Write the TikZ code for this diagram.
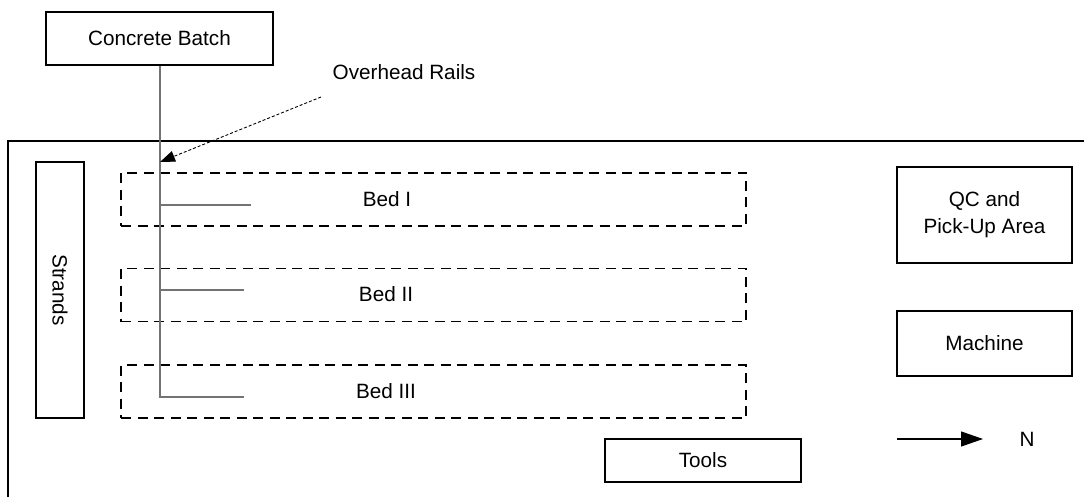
\documentclass[tikz,border=0pt]{standalone}
\usepackage{fontspec}
\setmainfont{Liberation Sans}
\usetikzlibrary{arrows.meta}
\begin{document}
\begin{tikzpicture}[x=1pt,y=-1pt,
  every node/.style={font=\fontsize{20.7}{24}\selectfont, inner sep=0pt},
  box/.style={draw, line width=1.2pt, minimum width=#1},
  bed/.style={draw, line width=1.3pt, dash pattern=on 10pt off 6.5pt, minimum width=625pt, minimum height=53pt},
  rail/.style={draw=black!55, line width=1.2pt},
  wall/.style={draw, line width=1.2pt}]
\useasboundingbox (0,0) rectangle (1084,497);
\fill[white] (0,0) rectangle (1084,497);
% outer area
\coordinate (w1) at (1084,141);
\coordinate (w2) at (8,141);
\coordinate (w3) at (8,497);
\draw[wall] (w1) -- (w2) -- (w3);
% nodes
\node[box=227pt, minimum height=53pt] (batch) at (159.5,38.5) {Concrete Batch};
\node[box=48pt, minimum height=256pt] (strands) at (60,290) {};
\node[rotate=-90] (strandst) at (60,290) {Strands};
\node[bed] (bed1) at (433.5,199.5) {};
\node[bed] (bed2) at (433.5,295) {};
\node[bed] (bed3) at (433.5,391.5) {};
\node (bed1t) at (387,199) {Bed I};
\node (bed2t) at (386,294) {Bed II};
\node (bed3t) at (386,391) {Bed III};
\node[box=175pt, minimum height=96pt, align=center] (qc) at (984.5,215) {QC and\\[3pt]Pick-Up Area};
\node[box=175pt, minimum height=65pt] (mach) at (984.5,343.5) {Machine};
\node[box=196pt, minimum height=43pt] (tools) at (703,460.5) {Tools};
\node (rails) at (404,72) {Overhead Rails};
\node (n) at (1027,439) {N};
% rails
\coordinate (r0) at (160,397);
\coordinate (j1) at (160,205);
\coordinate (j2) at (160,290);
\coordinate (e1) at (251,205);
\coordinate (e2) at (244,290);
\coordinate (e3) at (244,397);
\draw[rail] (batch.south -| r0) -- (r0) -- (e3);
\draw[rail] (j1) -- (e1);
\draw[rail] (j2) -- (e2);
% overhead rails pointer
\coordinate (p0) at (321,97);
\coordinate (p1) at (160,162);
\draw[line width=0.9pt, dash pattern=on 3pt off 2pt, -{Triangle[length=15pt,width=11pt]}] (p0) -- (p1);
% north arrow
\coordinate (a0) at (897,439);
\draw[line width=1.2pt, -{Triangle[length=22pt,width=15pt]}] (a0) -- (n.west -| 983,0);
\end{tikzpicture}
\end{document}
